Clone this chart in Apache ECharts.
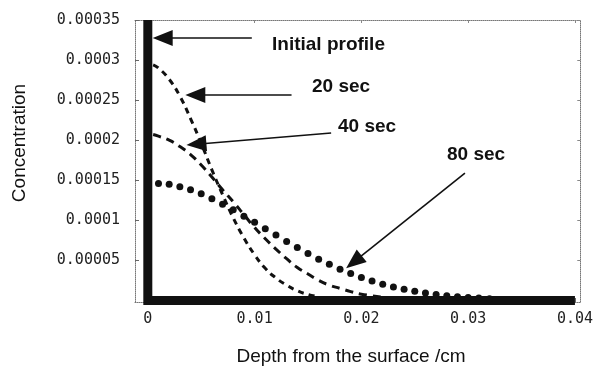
<!DOCTYPE html>
<html>
<head>
<meta charset="utf-8">
<script src="https://cdn.jsdelivr.net/npm/echarts@6/dist/echarts.min.js"></script>
<style>
  html, body { margin: 0; padding: 0; background: #fff; }
  #chart { width: 596px; height: 367px; }
</style>
</head>
<body>
<div id="chart"></div>
<script>
/* 扩散浓度剖面：初始分布 + 20 / 40 / 80 秒 */

// 刻度
const xTicks = [0, 0.01, 0.02, 0.03, 0.04];
const yTicks = [0.00005, 0.0001, 0.00015, 0.0002, 0.00025, 0.0003, 0.00035];

// 初始分布（表面薄层）
const initX = [0, 0, 0.04];
const initY = [0.00035, 0, 0];

// 20 sec（虚线）
const t20X = [0.0005, 0.001, 0.002, 0.003, 0.004, 0.005, 0.006, 0.007, 0.008, 0.009, 0.010, 0.011, 0.012, 0.013, 0.014, 0.015, 0.016];
const t20Y = [0.000294, 0.00029, 0.000276, 0.000255, 0.000227, 0.000196, 0.000163, 0.000132, 0.000103, 0.000078, 0.000057, 0.00004, 0.000028, 0.000019, 0.000012, 0.0000074, 0.0000044];

// 40 sec（长虚线）
const t40X = [0.0005, 0.001, 0.002, 0.003, 0.004, 0.005, 0.006, 0.007, 0.008, 0.009, 0.010, 0.011, 0.012, 0.013, 0.014, 0.015, 0.016, 0.017, 0.018, 0.019, 0.020, 0.022];
const t40Y = [0.000207, 0.000205, 0.0002, 0.000192, 0.000182, 0.000169, 0.000154, 0.000138, 0.000123, 0.000107, 0.000091, 0.000077, 0.000064, 0.000052, 0.000041, 0.000033, 0.000025, 0.000019, 0.000015, 0.000011, 0.0000078, 0.0000039];

// 80 sec（圆点）
const t80X = [0.001, 0.002, 0.003, 0.004, 0.005, 0.006, 0.007, 0.008, 0.009, 0.010, 0.011, 0.012, 0.013, 0.014, 0.015, 0.016, 0.017, 0.018, 0.019, 0.020, 0.021, 0.022, 0.023, 0.024, 0.025, 0.026, 0.027, 0.028, 0.029, 0.030, 0.031, 0.032];
const t80Y = [0.000146, 0.000145, 0.000142, 0.000138, 0.000133, 0.000127, 0.00012, 0.000113, 0.000105, 0.0000976, 0.0000895, 0.0000815, 0.0000735, 0.0000659, 0.0000585, 0.0000515, 0.000045, 0.000039, 0.0000335, 0.0000285, 0.0000241, 0.0000202, 0.0000168, 0.0000139, 0.0000113, 0.0000092, 0.0000074, 0.0000059, 0.0000047, 0.0000037, 0.0000029, 0.0000022];

// 标注箭头（数据坐标：起点 → 箭头中心，三角形尖端再向前约 10px）
const arrows = [
  [[0.00974, 0.0003275], [0.00139, 0.0003275]],
  [[0.01346, 0.0002564], [0.00445, 0.0002564]],
  [[0.01717, 0.000209], [0.00455, 0.000195]],
  [[0.0297, 0.000159], [0.0193, 0.000048]],
];

const zip = (xs, ys) => xs.map((x, i) => [x, ys[i]]);
const INK = '#111';
const MONO = '"DejaVu Sans Mono", monospace';
const SANS = '"Liberation Sans", Arial, sans-serif';

const chart = echarts.init(document.getElementById('chart'), null, { renderer: 'canvas' });

// 图框：四条轴线都用灰色点线，且不要吸附到 0 处
const frameLine = { show: true, onZero: false, lineStyle: { color: '#777', width: 1, type: 'dotted' } };

chart.setOption({
  backgroundColor: '#fff',
  animation: false,
  grid: { left: 135, right: 12, top: 20, bottom: 65 },
  xAxis: [{
    type: 'value', min: -0.0012, max: 0.0405,
    axisLine: frameLine,
    axisTick: { show: true, inside: true, length: 4, customValues: xTicks, lineStyle: { color: '#666' } },
    axisLabel: { customValues: xTicks, margin: 10, fontFamily: MONO, fontSize: 15, color: '#222',
                 formatter: v => String(Number(v.toFixed(3))) },
    splitLine: { show: false },
  }, {
    type: 'value', position: 'top', min: -0.0012, max: 0.0405,
    axisLine: frameLine,
    axisTick: { show: true, inside: true, length: 3, customValues: xTicks, lineStyle: { color: '#888' } },
    axisLabel: { show: false }, splitLine: { show: false },
  }],
  yAxis: [{
    type: 'value', min: -0.000002, max: 0.00035,
    axisLine: frameLine,
    axisTick: { show: true, inside: true, length: 4, customValues: yTicks, lineStyle: { color: '#666' } },
    axisLabel: { customValues: yTicks, margin: 15, fontFamily: MONO, fontSize: 15, color: '#222',
                 formatter: v => String(Number(v.toFixed(5))) },
    splitLine: { show: false },
  }, {
    type: 'value', position: 'right', min: -0.000002, max: 0.00035,
    axisLine: frameLine,
    axisTick: { show: true, inside: true, length: 3, customValues: yTicks, lineStyle: { color: '#888' } },
    axisLabel: { show: false }, splitLine: { show: false },
  }],
  series: [
    { name: '20 sec', type: 'line', data: zip(t20X, t20Y), showSymbol: false, smooth: true,
      lineStyle: { color: INK, width: 3, type: [6, 5] }, z: 3 },
    { name: '40 sec', type: 'line', data: zip(t40X, t40Y), showSymbol: false, smooth: true,
      lineStyle: { color: INK, width: 3, type: [8, 6] }, z: 3 },
    { name: '80 sec', type: 'scatter', data: zip(t80X, t80Y), symbolSize: 7,
      itemStyle: { color: INK, opacity: 1 }, z: 4 },
    { name: 'Initial profile', type: 'line', data: zip(initX, initY), showSymbol: false,
      lineStyle: { color: INK, width: 9, cap: 'butt', join: 'miter' }, z: 2,
      markLine: {
        silent: true, animation: false,
        symbol: ['none', 'triangle'], symbolSize: [16, 20],
        label: { show: false },
        lineStyle: { color: INK, width: 1.6, type: 'solid' },
        data: arrows.map(([a, b]) => [{ coord: a }, { coord: b }]),
      } },
  ],
  graphic: [
    { type: 'text', x: 272, y: 45, style: { text: 'Initial profile', fill: INK, font: 'bold 19px ' + SANS, textVerticalAlign: 'middle' } },
    { type: 'text', x: 312, y: 87, style: { text: '20 sec', fill: INK, font: 'bold 19px ' + SANS, textVerticalAlign: 'middle' } },
    { type: 'text', x: 338, y: 127, style: { text: '40 sec', fill: INK, font: 'bold 19px ' + SANS, textVerticalAlign: 'middle' } },
    { type: 'text', x: 447, y: 155, style: { text: '80 sec', fill: INK, font: 'bold 19px ' + SANS, textVerticalAlign: 'middle' } },
    { type: 'text', x: 351, y: 357, style: { text: 'Depth from the surface /cm', fill: INK, font: '19px ' + SANS, textAlign: 'center', textVerticalAlign: 'middle' } },
    { type: 'text', x: 20, y: 143, rotation: Math.PI / 2,
      style: { text: 'Concentration', fill: INK, font: '19px ' + SANS, textAlign: 'center', textVerticalAlign: 'middle' } },
  ],
});
</script>
</body>
</html>
